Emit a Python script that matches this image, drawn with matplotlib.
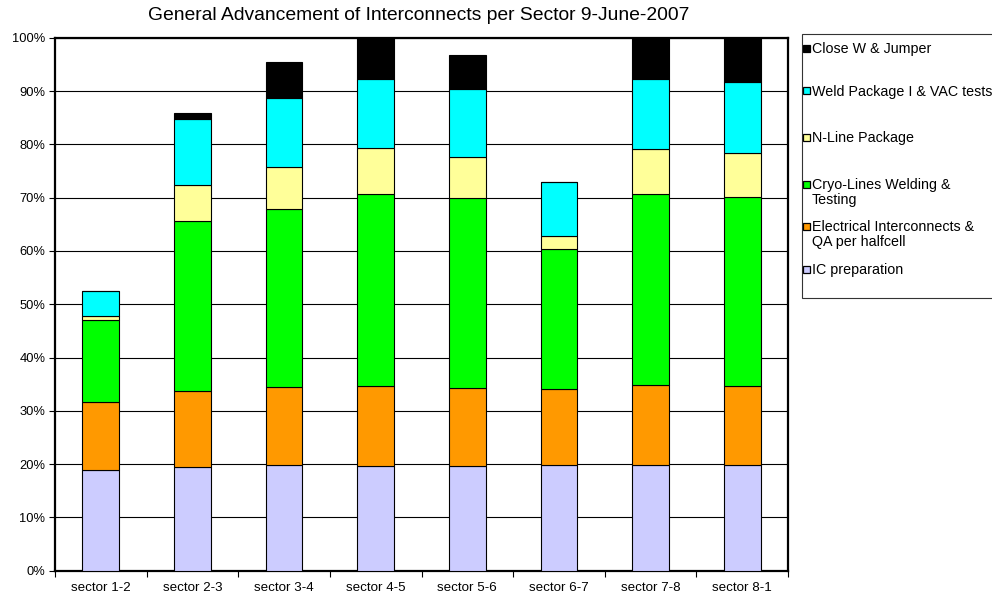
import numpy as np
import matplotlib
matplotlib.use("Agg")
import matplotlib.pyplot as plt
from matplotlib.patches import Rectangle
from matplotlib.ticker import FixedLocator, PercentFormatter

plt.rcParams["font.family"] = ["Liberation Sans", "DejaVu Sans"]

# --- data (percent of each sector, stacked bottom -> top) ---
sectors = ["sector 1-2", "sector 2-3", "sector 3-4", "sector 4-5",
           "sector 5-6", "sector 6-7", "sector 7-8", "sector 8-1"]

ic_prep    = [18.8, 19.5, 19.9, 19.7, 19.6, 19.8, 19.8, 19.8]
electrical = [12.8, 14.3, 14.5, 15.0, 14.7, 14.2, 15.1, 14.9]
cryo       = [15.4, 31.9, 33.5, 36.0, 35.6, 26.4, 35.8, 35.5]
n_line     = [0.7, 6.6, 7.8, 8.6, 7.7, 2.4, 8.4, 8.2]
weld_vac   = [4.7, 12.4, 13.0, 13.0, 12.8, 10.1, 13.1, 13.2]
close_w    = [0.0, 1.2, 6.7, 7.7, 6.4, 0.0, 7.8, 8.4]

series_labels = ["IC preparation",
                 "Electrical Interconnects &\nQA per halfcell",
                 "Cryo-Lines Welding &\nTesting",
                 "N-Line Package",
                 "Weld Package I & VAC tests",
                 "Close W & Jumper"]
series_colors = ["#CCCCFF", "#FF9900", "#00FF00", "#FFFF99", "#00FFFF", "#000000"]

W, H = 992, 598


def fx(px):
    return px / W


def fy(py):
    return 1 - py / H


fig = plt.figure(figsize=(W / 100, H / 100), dpi=100)
ax = fig.add_axes([fx(55), fy(570.7), fx(788) - fx(55), (570.7 - 37.7) / H])

x = np.arange(len(sectors))
bottom = np.zeros(len(sectors))
all_series = [ic_prep, electrical, cryo, n_line, weld_vac, close_w]
for vals, col in zip(all_series, series_colors):
    vals = np.array(vals)
    ax.bar(x, vals, bottom=bottom, width=0.40, color=col,
           edgecolor="black", linewidth=0.8, zorder=3)
    bottom += vals

ax.set_xlim(-0.5, len(sectors) - 0.5)
ax.set_ylim(0, 100)
ax.set_yticks(np.arange(0, 101, 10))
ax.yaxis.set_major_formatter(PercentFormatter(decimals=0))
ax.yaxis.grid(True, color="black", linewidth=0.8)
ax.set_axisbelow(True)

ax.set_xticks(x)
ax.set_xticklabels(sectors)
ax.xaxis.set_minor_locator(FixedLocator(np.arange(-0.5, len(sectors), 1.0)))
ax.tick_params(axis="x", which="major", length=0, pad=8, labelsize=9.6)
ax.tick_params(axis="x", which="minor", length=4, width=0.8, direction="out")
ax.tick_params(axis="y", length=4, width=0.8, direction="out", labelsize=9.3, pad=3)

for s in ax.spines.values():
    s.set_linewidth(1.6)
    s.set_color("black")

fig.text(fx(418.5), fy(15), "General Advancement of Interconnects per Sector 9-June-2007",
         ha="center", va="center", fontsize=13.9)

# legend box drawn by hand (Excel style, runs off the right edge)
fig.patches.append(Rectangle((fx(801.5), fy(298)), fx(260), (298 - 34) / H,
                             transform=fig.transFigure, facecolor="white",
                             edgecolor="#333333", linewidth=0.8))
legend_y = [269, 226, 184, 137, 91, 48]
for lab, col, yy in zip(series_labels, series_colors, legend_y):
    fig.patches.append(Rectangle((fx(802.5), fy(yy + 3.5)), fx(7), 7 / H,
                                 transform=fig.transFigure, facecolor=col,
                                 edgecolor="black", linewidth=0.9))
    fig.text(fx(811.5), fy(yy - 6), lab, ha="left", va="top",
             fontsize=10.3, linespacing=1.05)

fig.savefig("out.png", dpi=100)
